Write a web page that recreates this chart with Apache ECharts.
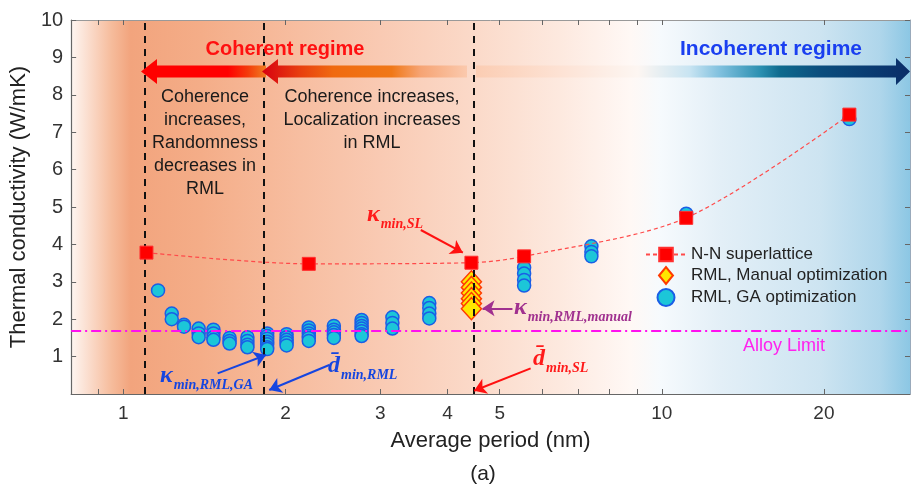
<!DOCTYPE html>
<html>
<head>
<meta charset="utf-8">
<title>Thermal conductivity vs average period</title>
<script src="https://cdn.jsdelivr.net/npm/echarts@6/dist/echarts.min.js"></script>
<style>
html, body { margin: 0; padding: 0; background: #fff; }
#chart { width: 912px; height: 490px; }
</style>
</head>
<body>
<div id="chart"></div>
<script>
// N-N superlattice
const periodSL = [1.104, 2.21, 4.43, 5.55, 11.1, 22.3];
const kappaSL = [3.78, 3.48, 3.51, 3.68, 4.71, 7.47];

// RML, manual optimization (all at the SL minimum period)
const periodManual = 4.43;
const kappaManual = [3.0, 2.85, 2.7, 2.55, 2.42, 2.28];

// RML, GA optimization: several structures per period
const periodGA = [1.16, 1.23, 1.296, 1.38, 1.47, 1.575, 1.70, 1.85, 2.01, 2.21, 2.46, 2.77, 3.16, 3.7, 5.55, 7.4, 11.1, 22.3];
const kappaGA = [
  [2.77],
  [2.15, 2.0],
  [1.85, 1.8],
  [1.75, 1.62, 1.52],
  [1.72, 1.62, 1.52, 1.45],
  [1.5, 1.42, 1.35],
  [1.52, 1.42, 1.32, 1.25],
  [1.62, 1.55, 1.48, 1.4, 1.33, 1.25, 1.2],
  [1.6, 1.52, 1.45, 1.38, 1.3],
  [1.78, 1.7, 1.62, 1.55, 1.5, 1.42],
  [1.82, 1.72, 1.65, 1.58, 1.5],
  [1.98, 1.9, 1.82, 1.75, 1.68, 1.6, 1.55],
  [2.05, 1.9, 1.75],
  [2.43, 2.3, 2.15, 2.02],
  [3.38, 3.22, 3.05, 2.9],
  [3.95, 3.8, 3.68],
  [4.82],
  [7.35]
];

const alloyLimit = 1.69;
const regimeBounds = [1.104, 1.84, 4.43];

// annotation arrows, [period, kappa] from -> to
const arrowsRed = [[[3.568, 4.385], [4.271, 3.778]], [[5.707, 0.687], [4.481, 0.088]]];
const arrowsBlue = [[[1.497, 0.553], [1.841, 1.043]], [[2.412, 0.775], [1.866, 0.107]]];
const arrowsPurple = [[[5.28, 2.29], [4.645, 2.29]]];

// axes
const xRange = [0.8, 28.9];
const xTickValues = [0.9, 1, 2, 3, 4, 5, 6, 7, 8, 9, 10, 20];
const xLabelValues = [1, 2, 3, 4, 5, 10, 20];
const yRange = [0, 10];

const lg = v => Math.log10(v);
const FONT = '"Liberation Sans", Arial, sans-serif';
const MATH = '"Liberation Serif", "DejaVu Serif", serif';
const DIAMOND = 'path://M0,11L9,0L18,11L9,22Z';

const gaData = [];
periodGA.forEach((p, i) => kappaGA[i].forEach(k => gaData.push([lg(p), k])));
const manualData = kappaManual.map(k => [lg(periodManual), k]);
const slData = periodSL.map((p, i) => [lg(p), kappaSL[i]]);

const arrowLines = (list, color) => list.map(a => [
  { coord: [lg(a[0][0]), a[0][1]], lineStyle: { color: color, width: 2, type: 'solid' } },
  { coord: [lg(a[1][0]), a[1][1]] }
]);

function xAxisBase(extra) {
  return Object.assign({
    type: 'value',
    min: lg(xRange[0]),
    max: lg(xRange[1]),
    splitLine: { show: false },
    axisLine: { show: true, onZero: false, lineStyle: { color: '#666', width: 1.2 } },
    axisTick: { show: true, inside: true, length: 5, customValues: xTickValues.map(lg), lineStyle: { color: '#666' } }
  }, extra);
}

function yAxisBase(extra) {
  return Object.assign({
    type: 'value',
    min: yRange[0],
    max: yRange[1],
    interval: 1,
    splitLine: { show: false },
    axisLine: { show: true, onZero: false, lineStyle: { color: '#666', width: 1.2 } },
    axisTick: { show: true, inside: true, length: 5, lineStyle: { color: '#666' } }
  }, extra);
}

// background shading: coherent (orange) -> incoherent (blue)
const bgGradient = new echarts.graphic.LinearGradient(0, 0, 1, 0, [
  { offset: 0, color: '#fef6f2' },
  { offset: 0.018, color: '#fbe0d2' },
  { offset: 0.048, color: '#f6bc9c' },
  { offset: 0.071, color: '#f2a47d' },
  { offset: 0.155, color: '#f4ad88' },
  { offset: 0.274, color: '#f7bea1' },
  { offset: 0.369, color: '#f9cab3' },
  { offset: 0.476, color: '#fbd9c8' },
  { offset: 0.583, color: '#fde9df' },
  { offset: 0.667, color: '#fff8f5' },
  { offset: 0.702, color: '#f6fafd' },
  { offset: 0.774, color: '#e3eff7' },
  { offset: 0.893, color: '#cde4f1' },
  { offset: 0.964, color: '#afd6eb' },
  { offset: 1, color: '#8cc7e4' }
]);

const redArrowFill = new echarts.graphic.LinearGradient(141, 0, 265, 0, [
  { offset: 0, color: '#ff0000' },
  { offset: 0.7, color: '#ff0000' },
  { offset: 0.86, color: '#f43a0a' },
  { offset: 1, color: '#f07a20' }
], true);

const longArrowFill = new echarts.graphic.LinearGradient(262, 0, 910, 0, [
  { offset: 0, color: '#d80010' },
  { offset: 0.06, color: '#e8400f' },
  { offset: 0.11, color: '#f06a10' },
  { offset: 0.2, color: '#f07818' },
  { offset: 0.245, color: '#f6a474' },
  { offset: 0.32, color: '#fbcbb0' },
  { offset: 0.46, color: '#fde2d4' },
  { offset: 0.58, color: '#fdf6f2' },
  { offset: 0.66, color: '#c8e4f2' },
  { offset: 0.707, color: '#7fc0de' },
  { offset: 0.77, color: '#2a8fb0' },
  { offset: 0.8, color: '#0e6a8e' },
  { offset: 0.86, color: '#0b4e7e' },
  { offset: 1, color: '#0a2d68' }
], true);

function txt(x, y, text, fill, font, extra) {
  return {
    type: 'text', x: x, y: y, z: 100,
    style: Object.assign({
      text: text, fill: fill, font: font,
      align: 'center', verticalAlign: 'middle',
      textAlign: 'center', textVerticalAlign: 'middle'
    }, extra || {})
  };
}

// math label like kappa_{min,SL}: main glyph + lowered subscript
function mathTxt(x, y, main, sub, fill, mainSize, subSize) {
  return {
    type: 'text', x: x, y: y, z: 100,
    style: {
      text: '{m|' + main + '}{s|' + sub + '}',
      fill: fill,
      align: 'left', verticalAlign: 'middle',
      textAlign: 'left', textVerticalAlign: 'middle',
      rich: {
        m: { fontFamily: MATH, fontStyle: 'italic', fontWeight: 'bold', fontSize: mainSize, fill: fill, color: fill, verticalAlign: 'bottom', padding: [0, 1, 5, 0] },
        s: { fontFamily: MATH, fontStyle: 'italic', fontWeight: 'bold', fontSize: subSize, fill: fill, color: fill, verticalAlign: 'bottom' }
      }
    }
  };
}

const chart = echarts.init(document.getElementById('chart'));

chart.setOption({
  animation: false,
  backgroundColor: '#fff',
  textStyle: { fontFamily: FONT },
  grid: {
    left: 70, right: 2, top: 20, bottom: 96,
    show: true, backgroundColor: bgGradient, borderWidth: 0
  },
  legend: {
    data: [
      'N-N superlattice',
      { name: 'RML, Manual optimization', icon: DIAMOND },
      'RML, GA optimization'
    ],
    orient: 'vertical',
    left: 640, top: 241,
    itemWidth: 40, itemHeight: 17, itemGap: 3,
    symbolKeepAspect: true,
    textStyle: { fontSize: 17, color: '#222', fontFamily: FONT }
  },
  xAxis: [
    xAxisBase({
      position: 'bottom',
      name: 'Average period (nm)',
      nameLocation: 'middle',
      nameGap: 36,
      nameTextStyle: { fontSize: 22, color: '#222', fontFamily: FONT },
      axisLabel: {
        customValues: xLabelValues.map(lg),
        formatter: v => String(Math.round(Math.pow(10, v))),
        fontSize: 19, color: '#333', margin: 10, fontFamily: FONT
      }
    }),
    xAxisBase({
      position: 'top',
      axisLine: { show: true, onZero: false, lineStyle: { color: '#999', width: 1 } },
      axisLabel: { show: false }
    })
  ],
  yAxis: [
    yAxisBase({
      position: 'left',
      name: 'Thermal conductivity (W/mK)',
      nameLocation: 'middle',
      nameGap: 38,
      nameTextStyle: { fontSize: 22, color: '#222', fontFamily: FONT },
      axisLabel: {
        formatter: v => (v === 0 ? '' : String(v)),
        fontSize: 20, color: '#333', margin: 8, fontFamily: FONT
      }
    }),
    yAxisBase({
      position: 'right',
      axisLine: { show: true, onZero: false, lineStyle: { color: '#9ab', width: 1 } },
      axisLabel: { show: false }
    })
  ],
  series: [
    {
      // regime boundaries and alloy limit
      type: 'scatter',
      data: [],
      silent: true,
      z: 2,
      markLine: {
        silent: true,
        animation: false,
        symbol: 'none',
        label: { show: false },
        data: regimeBounds.map(b => ({ xAxis: lg(b), lineStyle: { color: '#111', type: [7, 6], width: 2 } }))
          .concat([{ yAxis: alloyLimit, lineStyle: { color: '#ff10f0', type: [10, 4, 2, 4], width: 2 } }])
      }
    },
    {
      name: 'RML, GA optimization',
      type: 'scatter',
      data: gaData,
      symbol: 'circle',
      symbolSize: 13,
      itemStyle: { color: '#1cc6d8', borderColor: '#1a5ee6', borderWidth: 1.5, opacity: 1 },
      z: 3
    },
    {
      name: 'RML, Manual optimization',
      type: 'scatter',
      data: manualData,
      symbol: 'diamond',
      symbolSize: [20, 22],
      itemStyle: { color: '#ffe600', borderColor: '#ff3a00', borderWidth: 1.5, opacity: 1 },
      z: 4
    },
    {
      name: 'N-N superlattice',
      type: 'line',
      data: slData,
      smooth: 0.3,
      symbol: 'rect',
      symbolSize: 13,
      showAllSymbol: true,
      lineStyle: { color: '#ff4a4a', type: [4, 3], width: 1.2 },
      itemStyle: { color: '#ff0000', borderColor: '#ff3030', borderWidth: 1 },
      z: 5
    },
    {
      // annotation arrows
      type: 'scatter',
      data: [],
      silent: true,
      z: 6,
      markLine: {
        silent: true,
        animation: false,
        symbol: ['none', 'arrow'],
        symbolSize: 12,
        label: { show: false },
        data: arrowLines(arrowsRed, '#ff1010')
          .concat(arrowLines(arrowsBlue, '#1545e0'))
          .concat(arrowLines(arrowsPurple, '#a0308f'))
      }
    }
  ],
  graphic: [
    // regime arrows
    {
      type: 'polygon', z: 90,
      shape: { points: [[141, 71.5], [157, 59], [157, 65.5], [266, 65.5], [266, 77.5], [157, 77.5], [157, 84]] },
      style: { fill: redArrowFill }
    },
    {
      type: 'polygon', z: 91,
      shape: { points: [[262, 71.5], [278, 59], [278, 65.5], [467, 65.5], [467, 77.5], [278, 77.5], [278, 84]] },
      style: { fill: longArrowFill }
    },
    {
      type: 'polygon', z: 91,
      shape: { points: [[476, 65.5], [896, 65.5], [896, 58], [910, 71.5], [896, 85], [896, 77.5], [476, 77.5]] },
      style: { fill: longArrowFill }
    },
    txt(285, 49, 'Coherent regime', '#ff1010', 'bold 20px ' + FONT),
    txt(771, 49, 'Incoherent regime', '#1a3ff0', 'bold 21px ' + FONT),
    txt(205, 143, 'Coherence\nincreases,\nRandomness\ndecreases in\nRML', '#1a1a1a', '18px ' + FONT, { lineHeight: 23 }),
    txt(372, 120, 'Coherence increases,\nLocalization increases\nin RML', '#1a1a1a', '18px ' + FONT, { lineHeight: 23 }),
    txt(784, 346, 'Alloy Limit', '#ff22ee', '18px ' + FONT),
    txt(483, 474, '(a)', '#222', '21px ' + FONT),
    mathTxt(367, 217, '\u03ba', 'min,SL', '#ff1a1a', 24, 14),
    mathTxt(514, 310, '\u03ba', 'min,RML,manual', '#a0308f', 24, 14),
    mathTxt(160, 378, '\u03ba', 'min,RML,GA', '#1545e0', 24, 14),
    mathTxt(328, 368, 'd\u0304', 'min,RML', '#1545e0', 24, 14),
    mathTxt(533, 361, 'd\u0304', 'min,SL', '#ff1a1a', 24, 14)
  ]
});
</script>
</body>
</html>
